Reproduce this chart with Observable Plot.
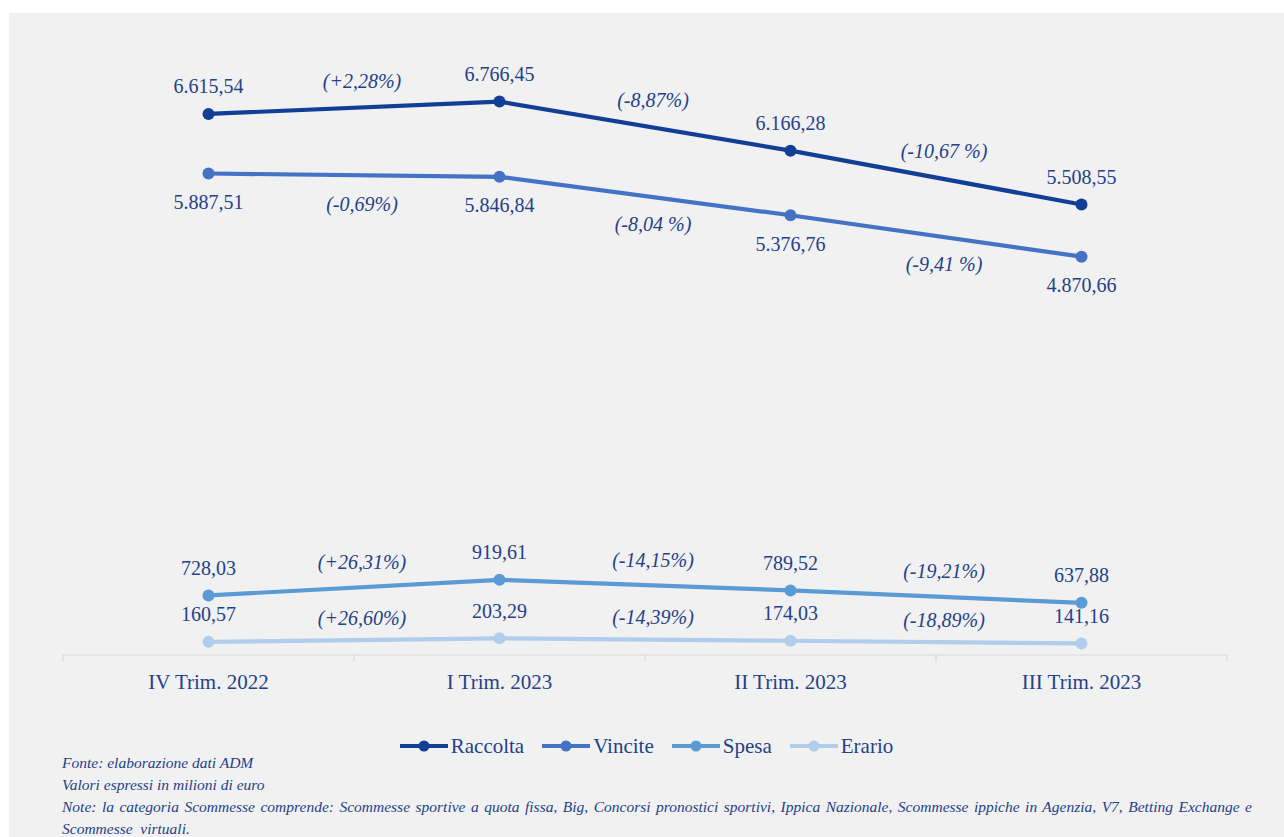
<!DOCTYPE html>
<html>
<head>
<meta charset="utf-8">
<script src="https://cdn.jsdelivr.net/npm/d3@7"></script>
<script src="https://cdn.jsdelivr.net/npm/@observablehq/plot@0.6"></script>
<style>
  html, body { margin: 0; padding: 0; background: #ffffff; }
  body { width: 1284px; height: 837px; position: relative; overflow: hidden; font-family: "Liberation Serif", "DejaVu Serif", serif; }
  #panel { position: absolute; left: 9px; top: 13px; width: 1275px; height: 824px; background: #f1f1f1; }
  #chart { position: absolute; left: 0; top: 0; }
  #legend { position: absolute; left: 0; width: 1275px; top: 721px; height: 24px; display: flex; justify-content: center; align-items: center; gap: 18px; font-family: "Liberation Serif", serif; font-size: 21px; color: #24418a; }
  #legend .item { display: flex; align-items: center; gap: 3px; }
  #notes { position: absolute; left: 53px; top: 739px; width: 1190px; font-family: "Liberation Serif", serif; font-style: italic; font-size: 15.5px; line-height: 22px; color: #24418a; }
  #notes .just { text-align: justify; text-align-last: justify; white-space: nowrap; }
</style>
</head>
<body>
<div id="panel">
  <div id="chart"></div>
  <div id="legend"></div>
  <div id="notes"></div>
</div>
<script>
const categories = ["IV Trim. 2022", "I Trim. 2023", "II Trim. 2023", "III Trim. 2023"];
const seriesNames = ["Raccolta", "Vincite", "Spesa", "Erario"];
const raccolta = [6615.54, 6766.45, 6166.28, 5508.55];
const vincite = [5887.51, 5846.84, 5376.76, 4870.66];
const spesa = [728.03, 919.61, 789.52, 637.88];
const erario = [160.57, 203.29, 174.03, 141.16];
const raccoltaVar = ["(+2,28%)", "(-8,87%)", "(-10,67 %)"];
const vinciteVar = ["(-0,69%)", "(-8,04 %)", "(-9,41 %)"];
const spesaVar = ["(+26,31%)", "(-14,15%)", "(-19,21%)"];
const erarioVar = ["(+26,60%)", "(-14,39%)", "(-18,89%)"];
const colors = ["#123f96", "#4472c4", "#5b9bd5", "#b0cdec"];
const noteLines = [
  "Fonte: elaborazione dati ADM",
  "Valori espressi in milioni di euro",
  "Note: la categoria Scommesse comprende: Scommesse sportive a quota fissa, Big, Concorsi pronostici sportivi, Ippica Nazionale, Scommesse ippiche in Agenzia, V7, Betting Exchange e",
  "Scommesse  virtuali."
];

const textColor = "#24418a";
const font = "Liberation Serif";

const valuesBySeries = [raccolta, vincite, spesa, erario];
const varsBySeries = [raccoltaVar, vinciteVar, spesaVar, erarioVar];
const labelDy = [-27, 29, -27, -27];
const varDy = [-26, 29, -25, -22];

function itNum(v) {
  const [i, d] = v.toFixed(2).split(".");
  return i.replace(/\B(?=(\d{3})+(?!\d))/g, ".") + "," + d;
}

const points = [];
valuesBySeries.forEach((vals, s) => vals.forEach((v, i) => points.push({series: seriesNames[s], q: categories[i], v, idx: s})));
const varLabels = [];
varsBySeries.forEach((arr, s) => arr.forEach((t, i) => varLabels.push({
  series: seriesNames[s], q: categories[i], v: (valuesBySeries[s][i] + valuesBySeries[s][i + 1]) / 2, text: t, idx: s
})));

const step = 291;
const marks = [
  Plot.ruleY([0], {stroke: "#d9d9d9", strokeWidth: 1.2}),
  Plot.ruleX(categories, {x: d => d, dx: -step / 2, y1: 0, y2: -85, stroke: "#d9d9d9", strokeWidth: 1.2}),
  Plot.ruleX(categories.slice(-1), {x: d => d, dx: step / 2, y1: 0, y2: -85, stroke: "#d9d9d9", strokeWidth: 1.2}),
  Plot.axisX({tickSize: 0, tickPadding: 19, fontSize: 21, fill: textColor, fontFamily: font}),
  Plot.line(points, {x: "q", y: "v", z: "series", stroke: "series", strokeWidth: 4.2}),
  Plot.dot(points, {x: "q", y: "v", fill: "series", r: 6}),
];
seriesNames.forEach((name, s) => {
  marks.push(Plot.text(points.filter(p => p.idx === s), {
    x: "q", y: "v", text: d => itNum(d.v), dy: labelDy[s], fontSize: 20, fill: textColor, fontFamily: font
  }));
  marks.push(Plot.text(varLabels.filter(p => p.idx === s), {
    x: "q", y: "v", text: "text", dx: step / 2 + 8, dy: varDy[s], fontSize: 20, fontStyle: "italic", fill: textColor, fontFamily: font
  }));
});

const chart = Plot.plot({
  width: 1275,
  height: 700,
  marginLeft: 53,
  marginRight: 58,
  marginTop: 69,
  marginBottom: 58.5,
  style: {background: "transparent", fontFamily: font},
  x: {type: "point", domain: categories, padding: 0.5, label: null},
  y: {domain: [0, 7000], axis: null},
  color: {domain: seriesNames, range: colors},
  marks
});
document.getElementById("chart").appendChild(chart);

const legend = document.getElementById("legend");
seriesNames.forEach((name, i) => {
  const item = document.createElement("div");
  item.className = "item";
  item.innerHTML = `<svg width="48" height="14"><line x1="0" x2="48" y1="7" y2="7" stroke="${colors[i]}" stroke-width="4"/><circle cx="24" cy="7" r="5.5" fill="${colors[i]}"/></svg><span>${name}</span>`;
  legend.appendChild(item);
});

const notes = document.getElementById("notes");
noteLines.forEach((t, i) => {
  const div = document.createElement("div");
  if (i === 2) div.className = "just";
  div.textContent = t;
  if (i === 3) div.style.whiteSpace = "pre";
  notes.appendChild(div);
});
</script>
</body>
</html>
